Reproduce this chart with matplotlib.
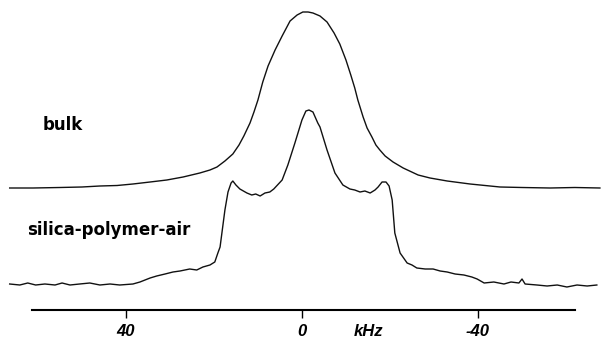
import matplotlib
matplotlib.use("Agg")
import matplotlib.pyplot as plt

# bulk spectrum: frequency (kHz) and intensity (arb.)
bulk_khz = [66.4, 61.1, 55.0, 50.0, 45.9, 42.0, 38.4, 34.5, 30.7, 27.0, 23.2, 20.9,
            19.3, 17.5, 15.7, 14.3, 13.2, 11.8, 10.9, 10.0, 8.9, 7.7, 6.1, 4.5,
            2.7, 1.1, -0.2, -1.4, -2.5, -4.1, -5.7, -7.3, -8.6, -10.0, -11.1,
            -12.0, -12.7, -13.9, -14.8, -15.9, -16.8, -17.7, -18.9, -20.7, -23.0,
            -26.4, -29.1, -33.0, -38.2, -45.0, -50.0, -56.4, -62.0, -67.7]
bulk_int = [0, 0, 0.5, 1, 2, 2.5, 4, 6, 8, 11, 15, 18,
            21, 27, 34, 43, 52, 65, 76, 88, 106, 122, 138, 152,
            167, 173, 176, 176, 175, 172, 166, 155, 144, 128, 113,
            100, 88, 71, 60, 51, 43, 38, 32, 26, 20,
            13, 10, 7, 4, 1, 0.5, 0, 0.5, 0]

# silica-polymer-air spectrum
silica_khz = [66.4, 64.1, 62.3, 60.5, 58.4, 56.1, 54.5, 52.7, 50.5, 48.2, 45.9, 43.6,
              41.4, 38.4, 36.8, 34.5, 33.0, 31.1, 29.3, 27.7, 25.5, 23.9, 22.5, 20.9,
              19.8, 19.1, 18.6, 17.5, 16.8, 16.1, 15.7, 15.0, 14.1, 12.5, 11.4, 10.5,
              9.5, 8.4, 7.3, 6.4, 4.5, 3.2, 1.6, 0.0, -0.9, -1.6, -2.5, -3.6, -4.1,
              -5.7, -7.5, -9.3, -10.9, -12.0, -13.2, -14.3, -15.5, -16.6, -17.3,
              -18.2, -19.1, -19.8, -20.5, -21.1, -22.3, -23.9, -25.0, -26.1, -28.0,
              -29.8, -31.4, -33.0, -34.8, -36.8, -38.6, -39.8, -41.4, -43.6, -45.9,
              -47.5, -49.3, -50.0, -50.7, -53.4, -55.7, -58.0, -60.2, -62.5, -64.8,
              -67.0]
silica_int = [3, 2, 4, 2, 3, 2, 4, 2, 3, 4, 2, 3,
              2, 3, 5, 9, 11, 13, 15, 16, 18, 17, 20, 22,
              25, 34, 40, 77, 95, 104, 106, 102, 98, 94, 92, 93,
              91, 94, 95, 98, 107, 122, 144, 167, 176, 177, 175, 164, 160,
              137, 114, 102, 98, 97, 95, 96, 94, 97, 100,
              105, 105, 101, 87, 54, 34, 24, 22, 19, 18,
              18, 16, 15, 13, 12, 10, 8, 4, 5, 3,
              5, 4, 8, 3, 2, 1, 2, 0, 2, 1,
              2]

ticks = [40, 0, -40]
tick_labels = ["40", "0", "-40"]

fig = plt.figure(figsize=(6.03, 3.39), dpi=100)
ax = fig.add_axes([0, 0, 1, 1])

bulk_base = 151
silica_base = 52
ax.plot(bulk_khz, [v + bulk_base for v in bulk_int], color="#111111", lw=1.0)
ax.plot(silica_khz, [v + silica_base for v in silica_int], color="#111111", lw=1.0)

ax.set_xlim(68.6, -68.4)
ax.set_ylim(0, 339)

for s in ["top", "left", "right"]:
    ax.spines[s].set_visible(False)
ax.spines["bottom"].set_position(("data", 29))
ax.spines["bottom"].set_bounds(-62.0, 61.4)
ax.spines["bottom"].set_linewidth(1.5)

ax.set_yticks([])
ax.set_xticks(ticks)
ax.set_xticklabels(tick_labels, fontfamily="Liberation Sans", fontweight="bold",
                   fontstyle="italic", fontsize=12)
ax.tick_params(axis="x", direction="out", length=6, width=1, pad=4)

ax.text(58.9, 214, "bulk", fontsize=12, fontweight="bold", va="center", ha="left")
ax.text(62.5, 109, "silica-polymer-air", fontsize=12, fontweight="bold",
        va="center", ha="left")
ax.text(-15.2, 7, "kHz", fontsize=12, fontweight="bold", fontstyle="italic",
        fontfamily="Liberation Sans", va="center", ha="center")

fig.savefig("out.png", dpi=100)
